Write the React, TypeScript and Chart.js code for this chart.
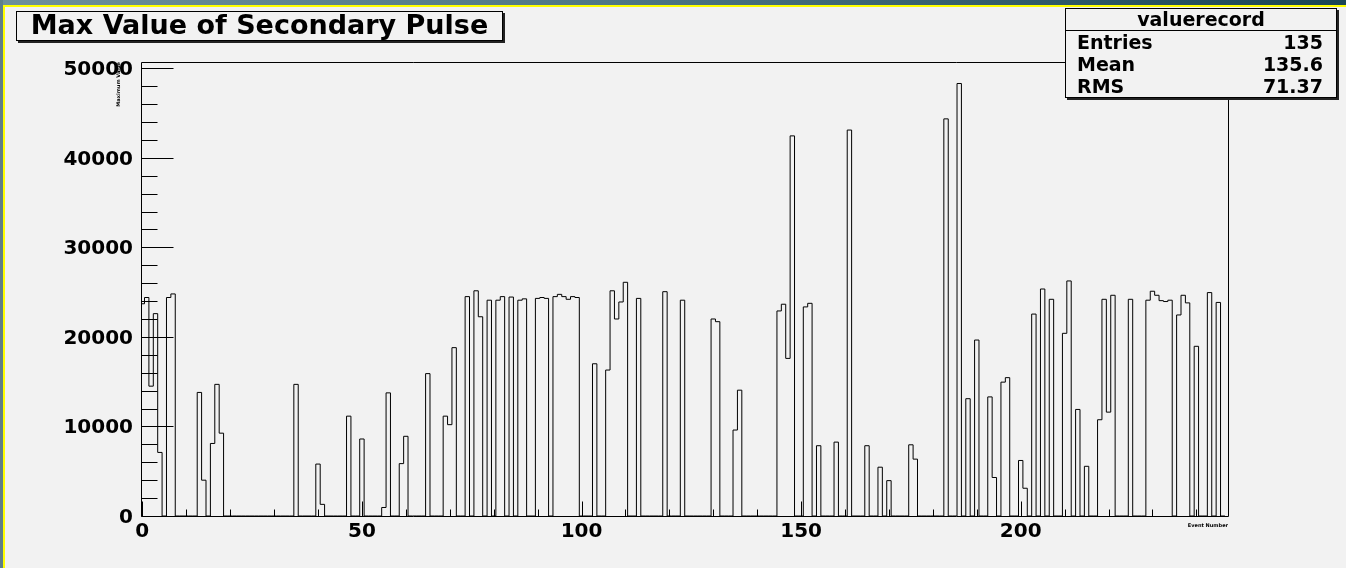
import React, { useEffect, useRef } from "react";
import { Chart, registerables } from "chart.js";

Chart.register(...registerables);

const chartTitle = "Max Value of Secondary Pulse";
const xAxisTitle = "Event Number";
const yAxisTitle = "Maximum Value";

// histogram: 247 unit-wide bins centred on the event number; only non-empty bins listed
const binCount = 247;
const eventNumbers = [
  0, 1, 2, 3, 4, 6, 7, 13, 14, 16, 17, 18, 35, 40, 41, 47, 50, 55, 56, 59, 60, 65, 69, 70, 71,
  74, 76, 77, 79, 81, 82, 84, 86, 87, 90, 91, 92, 94, 95, 96, 97, 98, 99, 103, 106, 107, 108,
  109, 110, 113, 119, 123, 130, 131, 135, 136, 145, 146, 147, 148, 151, 152, 154, 158, 161,
  165, 168, 170, 175, 176, 183, 186, 188, 190, 193, 194, 196, 197, 200, 201, 203, 205, 207,
  210, 211, 213, 215, 218, 219, 220, 221, 225, 229, 230, 231, 232, 233, 234, 236, 237, 238,
  240, 243, 245,
];
const maxValues = [
  23700, 24400, 14500, 22600, 7100, 24400, 24800, 13800, 4000, 8100, 14700, 9250, 14700, 5800,
  1300, 11150, 8600, 950, 13750, 5850, 8900, 15900, 11150, 10200, 18800,
  24500, 25150, 22250, 24100, 24100, 24500, 24450, 24100, 24250, 24300, 24400, 24300, 24500,
  24750, 24500, 24200, 24500, 24400, 17000, 16300, 25150, 22000,
  23900, 26100, 24300, 25050, 24100, 22000, 21700, 9600, 14050, 22900, 23650, 17600, 42450,
  23350, 23750, 7850, 8250, 43100,
  7850, 5450, 3950, 7950, 6350, 44350, 48300, 13100, 19650, 13300, 4300, 14950, 15450, 6200,
  3100, 22550, 25350, 24200,
  20400, 26250, 11900, 5550, 10750, 24200, 11600, 24650, 24200, 24100, 25100, 24650, 24050,
  23950, 24100, 22450, 24650, 23800,
  18950, 24950, 23850,
];

const xTickLabels = [0, 50, 100, 150, 200];
const yTickLabels = [0, 10000, 20000, 30000, 40000, 50000];
const xMinorStep = 10;
const yMinorStep = 2000;

const statsName = "valuerecord";
const statsLabels = ["Entries", "Mean", "RMS"];
const statsValues = ["135", "135.6", "71.37"];

const X_MIN = -0.3;
const X_MAX = 247.2;
const Y_MIN = 0;
const Y_MAX = 50700;

const FONT = "'DejaVu Sans', 'Liberation Sans', sans-serif";

const rootFramePlugin = {
  id: "rootFrame",
  afterDatasetsDraw(chart: any) {
    const { ctx, chartArea: a, scales } = chart;
    const xs = scales.x;
    const ys = scales.y;
    ctx.save();
    ctx.strokeStyle = "#000";
    ctx.lineWidth = 1;
    const L = Math.round(a.left) + 0.5;
    const T = Math.round(a.top) + 0.5;
    const R = Math.round(a.right) + 0.5;
    const B = Math.round(a.bottom) + 0.5;
    ctx.beginPath();
    ctx.rect(L, T, R - L, B - T);
    for (let v = Y_MIN; v <= Y_MAX; v += yMinorStep) {
      const y = Math.round(ys.getPixelForValue(v)) + 0.5;
      const major = v % 10000 === 0;
      ctx.moveTo(L, y);
      ctx.lineTo(L + (major ? 32 : 16), y);
    }
    for (let v = 0; v <= X_MAX; v += xMinorStep) {
      const x = Math.round(xs.getPixelForValue(v)) + 0.5;
      const major = v % 50 === 0;
      ctx.moveTo(x, B);
      ctx.lineTo(x, B - (major ? 15 : 7));
    }
    ctx.stroke();

    ctx.fillStyle = "#000";
    ctx.font = `bold 20px ${FONT}`;
    ctx.textBaseline = "alphabetic";
    ctx.textAlign = "right";
    yTickLabels.forEach((v) => {
      ctx.fillText(String(v), a.left - 8, ys.getPixelForValue(v) + 7);
    });
    ctx.textAlign = "center";
    xTickLabels.forEach((v) => {
      ctx.fillText(String(v), xs.getPixelForValue(v), a.bottom + 21);
    });

    ctx.font = `bold 5px ${FONT}`;
    ctx.textAlign = "right";
    ctx.fillText(xAxisTitle, a.right, a.bottom + 11);
    ctx.save();
    ctx.translate(a.left - 21, a.top);
    ctx.rotate(-Math.PI / 2);
    ctx.textAlign = "right";
    ctx.fillText(yAxisTitle, 0, 0);
    ctx.restore();
    ctx.restore();
  },
};

export default function App() {
  const canvasRef = useRef<HTMLCanvasElement | null>(null);

  useEffect(() => {
    const canvas = canvasRef.current;
    if (!canvas) return;
    const contents = new Array(binCount).fill(0);
    eventNumbers.forEach((b, i) => {
      contents[b] = maxValues[i];
    });
    const points: { x: number; y: number }[] = [{ x: -0.5, y: 0 }];
    contents.forEach((v, c) => points.push({ x: c - 0.5, y: v }));
    points.push({ x: binCount - 0.5, y: 0 });

    const chart = new Chart(canvas, {
      type: "line",
      data: {
        datasets: [
          {
            label: statsName,
            data: points,
            borderColor: "#000",
            borderWidth: 1,
            pointRadius: 0,
            fill: false,
            stepped: true,
            tension: 0,
          },
        ],
      },
      options: {
        animation: false,
        responsive: false,
        devicePixelRatio: 1,
        events: [],
        layout: { padding: { top: 62, right: 118, left: 0, bottom: 0 } },
        plugins: { legend: { display: false }, title: { display: false }, tooltip: { enabled: false } },
        scales: {
          x: {
            type: "linear",
            min: X_MIN,
            max: X_MAX,
            grid: { display: false },
            border: { display: false },
            ticks: { display: false },
            afterFit: (s: any) => {
              s.height = 52;
            },
          },
          y: {
            type: "linear",
            min: Y_MIN,
            max: Y_MAX,
            grid: { display: false },
            border: { display: false },
            ticks: { display: false },
            afterFit: (s: any) => {
              s.width = 141;
            },
          },
        },
      },
      plugins: [rootFramePlugin],
    });
    return () => chart.destroy();
  }, []);

  const rowBaselines = [49, 71, 93];
  const statsFont = 19;
  const titleFont = 27;

  return (
    <div
      style={{
        position: "fixed",
        left: 0,
        top: 0,
        width: 1346,
        height: 568,
        background: "#f2f2f2",
        overflow: "hidden",
        fontFamily: FONT,
        fontWeight: "bold",
        color: "#000",
      }}
    >
      <div
        style={{
          position: "absolute",
          left: 0,
          top: 0,
          width: 1346,
          height: 5,
          background: "linear-gradient(90deg, #6d8f9b 0%, #4f7786 45%, #1b4656 100%)",
        }}
      />
      <div style={{ position: "absolute", left: 0, top: 5, width: 1346, height: 2, background: "#ffff00" }} />
      <div style={{ position: "absolute", left: 0, top: 0, width: 3, height: 568, background: "#5f7f8a" }} />
      <div style={{ position: "absolute", left: 3, top: 5, width: 2, height: 563, background: "#ffff00" }} />

      <canvas
        ref={canvasRef}
        width={1346}
        height={568}
        style={{ position: "absolute", left: 0, top: 0, width: 1346, height: 568 }}
      />

      <div
        style={{
          position: "absolute",
          left: 16,
          top: 11,
          width: 487,
          height: 30,
          boxSizing: "border-box",
          border: "1px solid #000",
          boxShadow: "2px 2px 0 #222",
          background: "#f2f2f2",
        }}
      />
      <div
        style={{
          position: "absolute",
          left: 16,
          top: 33.5 - 0.846 * titleFont,
          width: 487,
          textAlign: "center",
          fontSize: titleFont,
          lineHeight: `${titleFont}px`,
          whiteSpace: "nowrap",
        }}
      >
        {chartTitle}
      </div>

      <div
        style={{
          position: "absolute",
          left: 1065,
          top: 8,
          width: 272,
          height: 90,
          boxSizing: "border-box",
          border: "1px solid #000",
          boxShadow: "2px 2px 0 #222",
          background: "#f2f2f2",
        }}
      />
      <div style={{ position: "absolute", left: 1065, top: 30, width: 272, height: 1, background: "#000" }} />
      <div
        style={{
          position: "absolute",
          left: 1065,
          top: 26.5 - 0.846 * statsFont,
          width: 272,
          textAlign: "center",
          fontSize: statsFont,
          lineHeight: `${statsFont}px`,
          whiteSpace: "nowrap",
        }}
      >
        {statsName}
      </div>
      {statsLabels.map((lab, i) => (
        <React.Fragment key={lab}>
          <div
            style={{
              position: "absolute",
              left: 1077,
              top: rowBaselines[i] - 0.846 * statsFont,
              fontSize: statsFont,
              lineHeight: `${statsFont}px`,
              whiteSpace: "nowrap",
            }}
          >
            {lab}
          </div>
          <div
            style={{
              position: "absolute",
              right: 1346 - 1323,
              top: rowBaselines[i] - 0.846 * statsFont,
              fontSize: statsFont,
              lineHeight: `${statsFont}px`,
              whiteSpace: "nowrap",
              textAlign: "right",
            }}
          >
            {statsValues[i]}
          </div>
        </React.Fragment>
      ))}
    </div>
  );
}
